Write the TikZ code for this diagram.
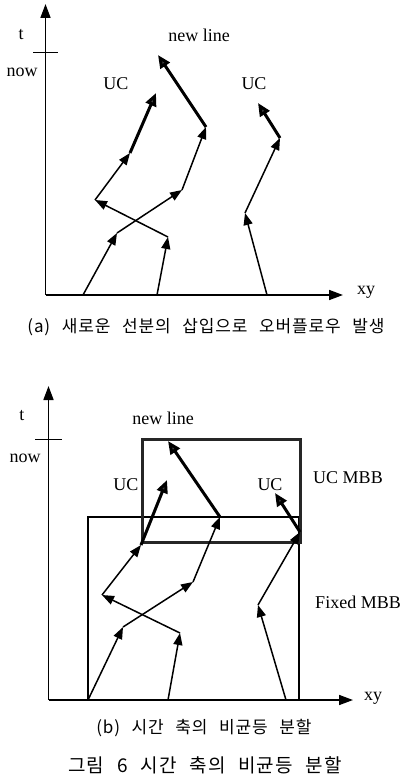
\documentclass[tikz,border=0pt]{standalone}
\usepackage{fontspec}
\setmainfont{Liberation Serif}
\newfontfamily\kr[LetterSpace=5,WordSpace=2.5]{Noto Sans CJK KR}
\usetikzlibrary{arrows.meta}
\begin{document}
\begin{tikzpicture}[x=1pt,y=-1pt,
  lbl/.style={font=\fontsize{18}{20}\selectfont, inner sep=0pt},
  seg/.style={line width=1.5pt, -{Triangle[length=12pt,width=9pt]}},
  thk/.style={line width=3pt, -{Triangle[length=13pt,width=11pt,fill=black!75]}},
  axis/.style={line width=1.6pt, -{Triangle[length=14pt,width=10pt]}},
  capt/.style={font=\kr\fontsize{17}{19}\selectfont, inner sep=0pt},
  fcapt/.style={font=\kr\fontsize{19}{21}\selectfont, inner sep=0pt}]
\useasboundingbox[fill=white] (0,0) rectangle (406,781);

% ---------- panel (a) ----------
\coordinate (oa) at (45.5,295);
\coordinate (ta) at (45.5,4);
\coordinate (xa) at (343,295);
\coordinate (tkl) at (33,53);
\coordinate (tkr) at (58,53);
\draw[axis] (oa) -- (ta);
\draw[axis] (oa) -- (xa);
\draw[line width=1pt] (tkl) -- (tkr);
\node[lbl] (t1) at (21,35) {t};
\node[lbl] (now1) at (22,72) {now};
\node[lbl] (xy1) at (366,292) {xy};
\node[lbl] (nl1) at (199,35) {new line};
\node[lbl] (uc1) at (116,84) {UC};
\node[lbl] (uc2) at (254,84) {UC};

\coordinate (a0) at (83,295);
\coordinate (a1) at (117,233);
\coordinate (a2) at (182,190);
\coordinate (a3) at (206,127);
\coordinate (a4) at (158,55);
\draw[seg] (a0) -- (a1);
\draw[seg] (a1) -- (a2);
\draw[seg] (a2) -- (a3);
\draw[thk] (a3) -- (a4);

\coordinate (b0) at (157,295);
\coordinate (b1) at (168,237);
\coordinate (b2) at (95,200);
\coordinate (b3) at (130,153);
\coordinate (b4) at (156,93);
\draw[seg] (b0) -- (b1);
\draw[seg] (b1) -- (b2);
\draw[seg] (b2) -- (b3);
\draw[thk] (b3) -- (b4);

\coordinate (c0) at (267,295);
\coordinate (c1) at (245,213);
\coordinate (c2) at (280,138);
\coordinate (c3) at (258,103);
\draw[seg] (c0) -- (c1);
\draw[seg] (c1) -- (c2);
\draw[thk] (c2) -- (c3);

\node[capt] (capa) at (206,327) {(a) 새로운 선분의 삽입으로 오버플로우 발생};

% ---------- panel (b) ----------
\coordinate (ob) at (48.5,700);
\coordinate (tb) at (48.5,386);
\coordinate (xb) at (353,700);
\coordinate (tkl2) at (35,439);
\coordinate (tkr2) at (62,439);
\draw[line width=1.5pt] (88,517) rectangle (299,700);
\draw[line width=3pt, black!85] (142,439) rectangle (300,542);
\draw[axis] (ob) -- (tb);
\draw[axis] (ob) -- (xb);
\draw[line width=1pt] (tkl2) -- (tkr2);
\node[lbl] (t2) at (22,416) {t};
\node[lbl] (now2) at (25,458) {now};
\node[lbl] (xy2) at (373,698) {xy};
\node[lbl] (nl2) at (163,418) {new line};
\node[lbl] (uc3) at (126,485) {UC};
\node[lbl] (uc4) at (270,485) {UC};
\node[lbl] (ucm) at (348,478) {UC MBB};
\node[lbl] (fxm) at (358,602) {Fixed MBB};

\coordinate (d0) at (88,700);
\coordinate (d1) at (123,627);
\coordinate (d2) at (193,582);
\coordinate (d3) at (220,517);
\coordinate (d4) at (168,441);
\draw[seg] (d0) -- (d1);
\draw[seg] (d1) -- (d2);
\draw[seg] (d2) -- (d3);
\draw[thk] (d3) -- (d4);

\coordinate (e0) at (168,700);
\coordinate (e1) at (180,633);
\coordinate (e2) at (102,595);
\coordinate (e3) at (141,545);
\coordinate (e4) at (167,480);
\draw[seg] (e0) -- (e1);
\draw[seg] (e1) -- (e2);
\draw[seg] (e2) -- (e3);
\draw[thk] (e3) -- (e4);

\coordinate (f0) at (286,700);
\coordinate (f1) at (258,605);
\coordinate (f2) at (300,532);
\coordinate (f3) at (275,493);
\draw[seg] (f0) -- (f1);
\draw[seg] (f1) -- (f2);
\draw[thk] (f2) -- (f3);

\node[capt] (capb) at (204,728) {(b) 시간 축의 비균등 분할};
\node[fcapt] (capf) at (205,765) {그림 6 시간 축의 비균등 분할};
\end{tikzpicture}
\end{document}
